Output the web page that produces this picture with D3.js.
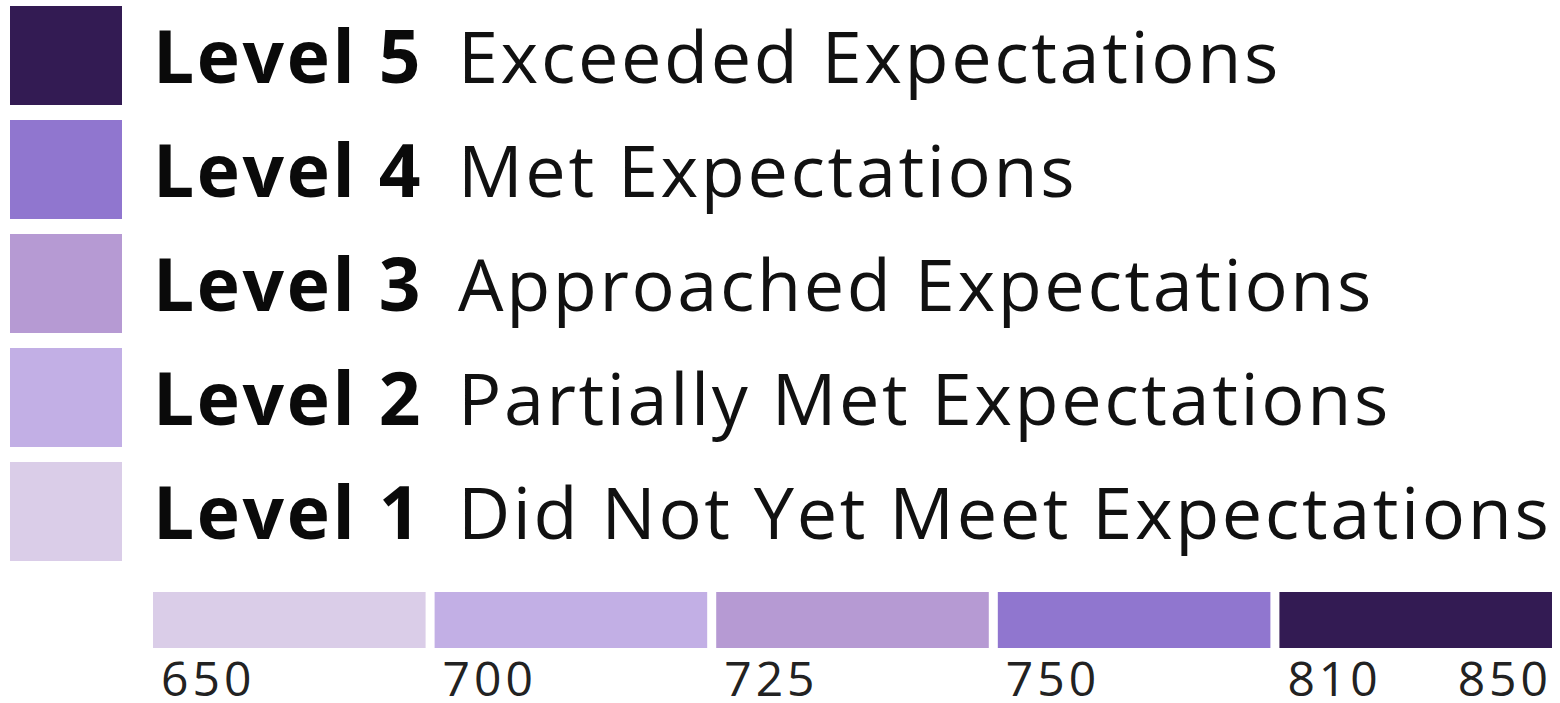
<!DOCTYPE html>
<meta charset="utf-8">
<style>
body { margin: 0; background: #fff; font-family: "Open Sans", "Noto Sans", sans-serif; }
.level { font-weight: 700; fill: #0a0a0a; }
.desc { font-weight: 400; fill: #111; }
.tick text { fill: #222; }
</style>
<svg width="1560" height="703"></svg>
<script src="https://d3js.org/d3.v7.min.js"></script>
<script>

var levels = ["Level 5", "Level 4", "Level 3", "Level 2", "Level 1"];
var descriptions = ["Exceeded Expectations", "Met Expectations", "Approached Expectations",
                    "Partially Met Expectations", "Did Not Yet Meet Expectations"];
var colors = ["#331b53", "#9076cf", "#b69ad3", "#c2afe5", "#dacde8"];

// score bands, low to high
var bandStarts = [650, 700, 725, 750, 810];
var scaleMax = 850;
var bandColors = ["#dacde8", "#c2afe5", "#b69ad3", "#9076cf", "#331b53"];

var svg = d3.select("svg");

// legend rows
var y = d3.scaleBand()
    .domain(levels)
    .range([6, 561])
    .paddingInner(15 / 114)
    .paddingOuter(0);

var row = svg.append("g")
  .selectAll("g")
  .data(levels)
  .enter().append("g")
    .attr("transform", function(d) { return "translate(0," + y(d) + ")"; });

row.append("rect")
    .attr("x", 10)
    .attr("width", 112)
    .attr("height", y.bandwidth())
    .attr("fill", function(d, i) { return colors[i]; });

row.append("text")
    .attr("class", "level")
    .attr("x", 153)
    .attr("y", 77)
    .style("font-size", "73px")
    .style("letter-spacing", "2.6px")
    .text(function(d) { return d; });

row.append("text")
    .attr("class", "desc")
    .attr("x", 458)
    .attr("y", 77)
    .style("font-size", "72px")
    .style("letter-spacing", "2.6px")
    .text(function(d, i) { return descriptions[i]; });

// scale bar
var x = d3.scaleBand()
    .domain(bandStarts)
    .range([153, 1552])
    .paddingInner(9 / 281)
    .paddingOuter(0);

svg.append("g")
  .selectAll("rect")
  .data(bandStarts)
  .enter().append("rect")
    .attr("x", function(d) { return x(d); })
    .attr("y", 592)
    .attr("width", x.bandwidth())
    .attr("height", 56)
    .attr("fill", function(d, i) { return bandColors[i]; });

var tickData = bandStarts.map(function(d) { return { v: d, x: x(d) + 8, anchor: "start" }; });
tickData.push({ v: scaleMax, x: x.range()[1], anchor: "end" });

svg.append("g")
    .attr("class", "tick")
  .selectAll("text")
  .data(tickData)
  .enter().append("text")
    .attr("x", function(d) { return d.x; })
    .attr("y", 696)
    .attr("text-anchor", function(d) { return d.anchor; })
    .style("font-size", "48px")
    .style("letter-spacing", "4px")
    .text(function(d) { return d.v; });

</script>
